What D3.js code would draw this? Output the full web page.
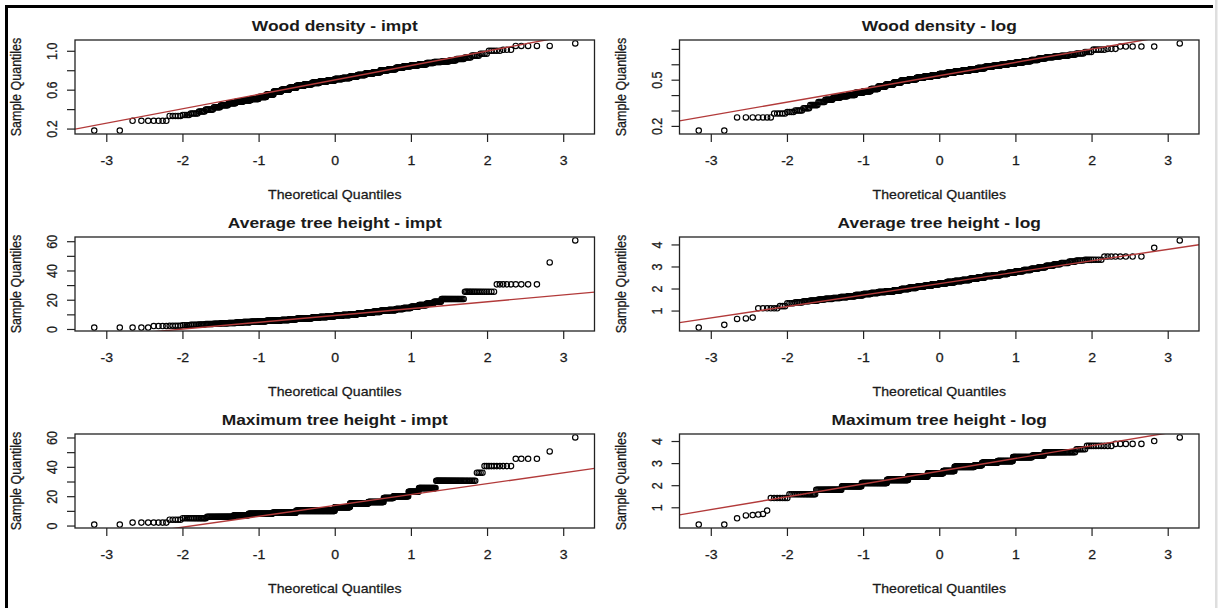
<!DOCTYPE html>
<html><head><meta charset="utf-8">
<script src="https://cdn.jsdelivr.net/npm/d3@7"></script>
<style>body{margin:0;background:#fff;overflow:hidden}</style>
</head><body>
<svg id="c" width="1218" height="608"></svg>
<script>
// ---------- data (sorted sample values with their repeat counts) ----------
const titles = ["Wood density - impt", "Wood density - log",
  "Average tree height - impt", "Average tree height - log",
  "Maximum tree height - impt", "Maximum tree height - log"];

const woodImptValues = [0.18,0.28,0.33,
  0.34,0.355,0.375,0.395,0.42,0.44,0.46,0.475,0.49,0.505,0.525,0.55,0.58,0.60,0.62,0.64,0.655,0.67,0.685,0.695,
  0.71,0.72,0.735,0.75,0.765,0.78,0.80,0.81,0.825,0.84,0.85,0.86,0.875,0.885,0.89,0.90,0.915,0.93,0.95,0.97,
  1.0,1.01,1.05,1.075];
const woodImptCounts = [2,7,5,
  4,5,5,7,7,9,10,11,13,15,16,17,19,21,21,23,24,24,25,25,
  25,25,24,24,23,21,21,19,17,16,15,13,11,10,9,7,7,5,5,4,
  5,3,5,1];

const woodLogValues = [0.17,0.255,0.28,
  0.29,0.30,0.315,0.335,0.355,0.37,0.383,0.393,0.40,0.415,0.425,0.44,0.455,0.468,0.482,0.495,0.503,0.512,0.52,0.528,
  0.537,0.545,0.553,0.56,0.567,0.575,0.584,0.59,0.597,0.604,0.612,0.62,0.628,0.637,0.645,0.65,0.655,0.662,0.67,0.68,
  0.695,0.70,0.715,0.735];
const woodLogCounts = [2,7,5,
  4,5,5,7,7,9,10,11,13,15,16,17,19,21,21,23,24,24,25,25,
  25,25,24,24,23,21,21,19,17,16,15,13,11,10,9,7,7,5,5,4,
  5,3,5,1];

const avgImptValues = [1.0,2.0,2.2,
  2.6,2.9,3.1,3.4,3.6,3.9,4.1,4.4,4.7,5.0,5.3,5.6,5.9,6.1,6.6,7.0,7.4,7.8,8.2,8.7,
  9.1,9.6,10.0,10.5,11.1,11.7,12.4,12.9,13.6,14.3,15.2,16.3,17.4,18.6,
  20.5,25.5,30.5,45.5,60.5];
const avgImptCounts = [5,4,5,
  4,5,5,7,7,9,10,11,13,15,16,17,19,21,21,23,24,24,25,25,
  25,25,24,24,23,21,21,19,17,16,15,13,11,10,
  23,17,9,1,1];

const avgLogValues = [0.23,0.35,0.62,0.64,0.68,1.1,1.2,
  1.33,1.37,1.42,1.45,1.50,1.53,1.57,1.61,1.65,1.70,1.75,1.80,1.84,1.87,1.92,1.98,2.03,2.08,2.13,2.19,
  2.24,2.29,2.34,2.39,2.44,2.50,2.57,2.60,2.66,2.72,2.78,2.84,2.90,2.96,3.03,3.10,3.16,3.22,3.27,3.30,
  3.31,3.45,3.85,4.18];
const avgLogCounts = [1,1,1,1,1,6,3,
  4,5,5,7,7,9,10,11,13,15,16,17,19,21,21,23,24,24,25,25,
  25,25,24,24,23,21,21,19,17,16,15,13,11,10,9,7,7,5,5,4,
  4,8,1,1];

const maxImptValues = [0.7,2,4,5,6,7,8,8.7,10,12.5,15,16,18.7,20,23,25.5,30.5,36,40.5,45.5,50.5,60];
const maxImptCounts = [2,7,5,15,29,23,49,62,123,50,57,44,25,34,20,27,38,4,10,4,1,1];

const maxLogValues = [0.22,0.50,0.63,0.65,0.67,0.70,0.85,1.42,1.59,1.79,1.95,2.10,2.24,2.39,2.54,2.64,2.83,2.90,3.02,3.09,3.27,3.34,3.49,3.63,3.78,3.87,4.0,4.16];
const maxLogCounts = [2,1,1,1,1,1,1,7,18,30,34,58,60,62,51,37,62,22,41,35,35,17,30,6,10,5,1,1];

const xTicks = [-3,-2,-1,0,1,2,3];
const woodImptYTicks = [0.2,0.4,0.6,0.8,1.0], woodImptYLabels = [0.2,0.6,1.0];
const woodLogYTicks = [0.2,0.3,0.4,0.5,0.6,0.7], woodLogYLabels = [0.2,0.5];
const heightImptYTicks = [0,10,20,30,40,50,60], heightImptYLabels = [0,20,40,60];
const heightLogYTicks = [1,2,3,4], heightLogYLabels = [1,2,3,4];
const xLabel = "Theoretical Quantiles", yLabel = "Sample Quantiles";

// ---------- helpers ----------
function qnorm(p){
  const a=[-3.969683028665376e+01,2.209460984245205e+02,-2.759285104469687e+02,1.383577518672690e+02,-3.066479806614716e+01,2.506628277459239e+00];
  const b=[-5.447609879822406e+01,1.615858368580409e+02,-1.556989798598866e+02,6.680131188771972e+01,-1.328068155288572e+01];
  const c=[-7.784894002430293e-03,-3.223964580411365e-01,-2.400758277161838e+00,-2.549732539343734e+00,4.374664141464968e+00,2.938163982698783e+00];
  const d=[7.784695709041462e-03,3.224671290700398e-01,2.445134137142996e+00,3.754408661907416e+00];
  const pl=0.02425, ph=1-pl; let q,r;
  if(p<pl){q=Math.sqrt(-2*Math.log(p));return (((((c[0]*q+c[1])*q+c[2])*q+c[3])*q+c[4])*q+c[5])/((((d[0]*q+d[1])*q+d[2])*q+d[3])*q+1);}
  if(p>ph){q=Math.sqrt(-2*Math.log(1-p));return -(((((c[0]*q+c[1])*q+c[2])*q+c[3])*q+c[4])*q+c[5])/((((d[0]*q+d[1])*q+d[2])*q+d[3])*q+1);}
  q=p-0.5;r=q*q;return (((((a[0]*r+a[1])*r+a[2])*r+a[3])*r+a[4])*r+a[5])*q/(((((b[0]*r+b[1])*r+b[2])*r+b[3])*r+b[4])*r+1);
}
const expand = (vals, cnts) => d3.merge(vals.map((v,i) => Array(cnts[i]).fill(v)));

const panels = [
  {title: titles[0], vals: woodImptValues, cnts: woodImptCounts, yt: woodImptYTicks, yl: woodImptYLabels, fmt: d3.format(".1f")},
  {title: titles[1], vals: woodLogValues, cnts: woodLogCounts, yt: woodLogYTicks, yl: woodLogYLabels, fmt: d3.format(".1f")},
  {title: titles[2], vals: avgImptValues, cnts: avgImptCounts, yt: heightImptYTicks, yl: heightImptYLabels, fmt: d3.format("d")},
  {title: titles[3], vals: avgLogValues, cnts: avgLogCounts, yt: heightLogYTicks, yl: heightLogYLabels, fmt: d3.format("d")},
  {title: titles[4], vals: maxImptValues, cnts: maxImptCounts, yt: heightImptYTicks, yl: heightImptYLabels, fmt: d3.format("d")},
  {title: titles[5], vals: maxLogValues, cnts: maxLogCounts, yt: heightLogYTicks, yl: heightLogYLabels, fmt: d3.format("d")}
];

// ---------- layout ----------
const colLeft = [75, 679.5], boxW = 519.5;
const rowTop = [40, 237, 434], boxH = 94;
const SX = 1.13; // horizontal stretch of the original screenshot text
const FONT = "'Liberation Sans', Arial, sans-serif";
const TXT = "#1a1a1a";

const svg = d3.select("#c");
// outer frame
svg.append("rect").attr("x",5).attr("y",5).attr("width",3).attr("height",603).attr("fill","#000");
svg.append("rect").attr("x",5).attr("y",5).attr("width",1208).attr("height",3).attr("fill","#000");
svg.append("rect").attr("x",1215).attr("y",0).attr("width",2.5).attr("height",608).attr("fill","#dedede");

panels.forEach((p, k) => {
  const L = colLeft[k % 2], T = rowTop[Math.floor(k / 2)];
  const sample = expand(p.vals, p.cnts).sort(d3.ascending);
  const n = sample.length;
  const pts = sample.map((v, i) => ({q: qnorm((i + 0.5) / n), v}));
  const qx = d3.extent(pts, d => d.q), vy = d3.extent(sample);
  const rx = qx[1] - qx[0], ry = vy[1] - vy[0];
  const x = d3.scaleLinear().domain([qx[0] - 0.04*rx, qx[1] + 0.04*rx]).range([L, L + boxW]);
  const y = d3.scaleLinear().domain([vy[0] - 0.04*ry, vy[1] + 0.04*ry]).range([T + boxH, T]);

  const g = svg.append("g");
  const cid = "clip" + k;
  g.append("clipPath").attr("id", cid).append("rect")
    .attr("x", L).attr("y", T).attr("width", boxW).attr("height", boxH);

  // points
  g.append("g").selectAll("circle").data(pts).join("circle")
    .attr("cx", d => x(d.q)).attr("cy", d => y(d.v)).attr("r", 2.7)
    .attr("fill", "none").attr("stroke", "#000").attr("stroke-width", 1.15);

  // qqline through quartiles
  const q1 = d3.quantile(sample, 0.25), q3 = d3.quantile(sample, 0.75);
  const z1 = qnorm(0.25), z3 = qnorm(0.75);
  const slope = (q3 - q1) / (z3 - z1), icpt = q1 - slope * z1;
  const xd = x.domain();
  g.append("line").attr("clip-path", `url(#${cid})`)
    .attr("x1", x(xd[0])).attr("y1", y(icpt + slope * xd[0]))
    .attr("x2", x(xd[1])).attr("y2", y(icpt + slope * xd[1]))
    .attr("stroke", "#b23a3a").attr("stroke-width", 1.4);

  // box
  g.append("rect").attr("x", L).attr("y", T).attr("width", boxW).attr("height", boxH)
    .attr("fill", "none").attr("stroke", "#222").attr("stroke-width", 1.3);

  // x axis
  const ax = g.append("g").attr("transform", `translate(0,${T + boxH})`)
    .call(d3.axisBottom(x).tickValues(xTicks).tickSize(8).tickFormat(d3.format("d")));
  ax.select(".domain").remove();
  ax.selectAll("line").attr("stroke", "#222").attr("stroke-width", 1.2);
  ax.selectAll("text").attr("y", 0).attr("dy", 0)
    .attr("transform", `translate(0,31) scale(${SX},1)`)
    .attr("font-family", FONT).attr("font-size", 12.5).attr("fill", TXT)
    .attr("stroke", TXT).attr("stroke-width", 0.25)
    .text(d => d < 0 ? "-" + Math.abs(d) : d);

  // y axis
  const ay = g.append("g").attr("transform", `translate(${L},0)`)
    .call(d3.axisLeft(y).tickValues(p.yt).tickSize(8).tickFormat(d => p.yl.includes(d) ? p.fmt(d) : ""));
  ay.select(".domain").remove();
  ay.selectAll("line").attr("stroke", "#222").attr("stroke-width", 1.2);
  ay.selectAll("text").attr("x", 0).attr("dy", 0).attr("text-anchor", "middle")
    .attr("transform", `translate(-18,0) scale(${SX},1) rotate(-90)`)
    .attr("font-family", FONT).attr("font-size", 12.5).attr("fill", TXT)
    .attr("stroke", TXT).attr("stroke-width", 0.25);

  // titles and labels
  g.append("text").attr("transform", `translate(${L + boxW/2},${T - 9}) scale(${SX},1)`)
    .attr("text-anchor", "middle").attr("font-family", FONT).attr("font-weight", "bold")
    .attr("font-size", 15.4).attr("fill", TXT).text(p.title);
  g.append("text").attr("transform", `translate(${L + boxW/2},${T + boxH + 65}) scale(${SX},1)`)
    .attr("text-anchor", "middle").attr("font-family", FONT)
    .attr("font-size", 12.5).attr("fill", TXT).attr("stroke", TXT).attr("stroke-width", 0.25).text(xLabel);
  g.append("text").attr("transform", `translate(${L - 54},${T + boxH/2}) scale(${SX},1) rotate(-90)`)
    .attr("text-anchor", "middle").attr("font-family", FONT)
    .attr("font-size", 12.5).attr("fill", TXT).attr("stroke", TXT).attr("stroke-width", 0.25).text(yLabel);
});
</script>
</body></html>
